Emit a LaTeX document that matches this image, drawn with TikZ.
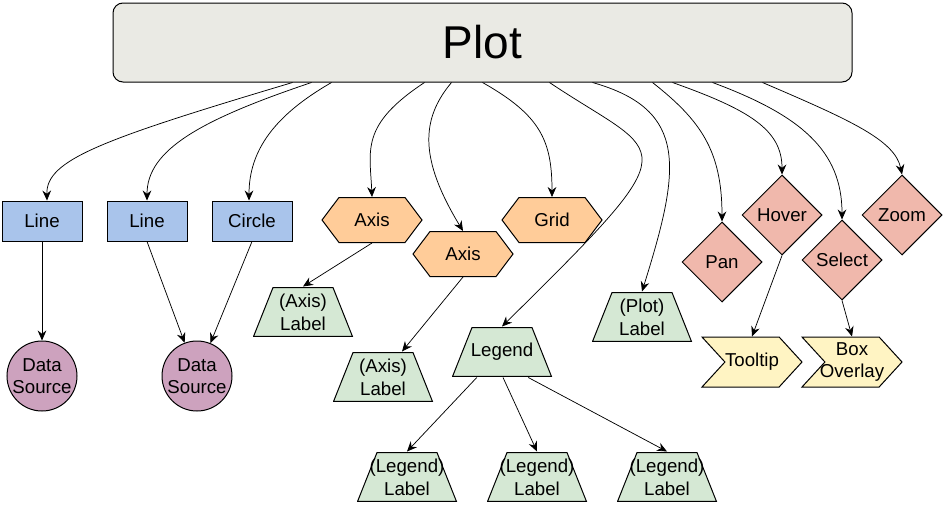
\documentclass[tikz,border=0pt]{standalone}
\usepackage{fontspec}
\setmainfont{Liberation Sans}
\usepackage{tikz}
\usetikzlibrary{
    positioning,
    arrows.meta,
    calc,
    shapes.geometric,
    shapes.symbols
}
\definecolor{plotGray}{RGB}{234, 234, 228}
\definecolor{glyphBlue}{RGB}{169, 196, 235}
\definecolor{sourcePurple}{RGB}{205, 162, 190}
\definecolor{guideOrange}{RGB}{255, 204, 153}
\definecolor{labelGreen}{RGB}{213, 232, 212}
\definecolor{toolPink}{RGB}{240, 184, 172}
\definecolor{extraYellow}{RGB}{255, 244, 195}

% text of no width, so that it does not widen the shape
\newcommand{\zw}[1]{\makebox[0pt]{#1}}

\tikzset{
    base/.style={draw=black, line width=0.75pt, inner sep=0pt, align=center,
        font=\fontsize{14pt}{17pt}\selectfont},
    plotBox/.style={base, rectangle, rounded corners=7.5pt, fill=plotGray,
        minimum width=554.25pt, minimum height=59.25pt,
        font=\fontsize{34.5pt}{40pt}\selectfont},
    glyphBox/.style={base, rectangle, fill=glyphBlue,
        minimum width=60pt, minimum height=30pt},
    sourceDisk/.style={base, circle, fill=sourcePurple, minimum size=52.5pt},
    guideHex/.style={base, signal, signal to=west and east,
        signal pointer angle=106, fill=guideOrange,
        minimum width=75pt, minimum height=33.75pt},
    % trapezium drawn inside a plain box
    labelTrap/.style={base, draw=none, rectangle,
        minimum width=75pt, minimum height=37.5pt,
        path picture={
            \draw[fill=labelGreen, line width=0.75pt]
                ([shift={(0.4pt,0.4pt)}]path picture bounding box.south west)
                -- ([shift={(-0.4pt,0.4pt)}]path picture bounding box.south east)
                -- ([shift={(-15pt,-0.4pt)}]path picture bounding box.north east)
                -- ([shift={(15pt,-0.4pt)}]path picture bounding box.north west)
                -- cycle;
        }},
    toolDiamond/.style={base, diamond, fill=toolPink,
        minimum width=60pt, minimum height=60pt},
    extraChevron/.style={base, signal, signal to=east, signal from=west,
        signal pointer angle=95, fill=extraYellow,
        minimum width=75pt, minimum height=37.5pt},
    link/.style={-{Stealth[length=7.5pt, width=6.5pt, inset=2.5pt]}, line width=0.55pt}
}

\begin{document}
\begin{tikzpicture}[x=0.75pt, y=-0.75pt]
    \useasboundingbox (0,0) rectangle (944,507);

    \node[plotBox] (plot) at (482.5,42.5) {Plot};

    % glyphs and their data sources
    \node[glyphBox] (lineA) at (42,221) {Line};
    \node[glyphBox] (lineB) at (147,221) {Line};
    \node[glyphBox] (circ) at (252,221) {Circle};
    \node[sourceDisk] (srcA) at (42,376) {\zw{Data}\\\zw{Source}};
    \node[sourceDisk] (srcB) at (197,376) {\zw{Data}\\\zw{Source}};

    % guides
    \node[guideHex] (axisA) at (372,220) {Axis};
    \node[guideHex] (axisB) at (463,254) {Axis};
    \node[guideHex] (grid) at (552,220) {Grid};
    \node[labelTrap] (axisLabA) at (303,312) {(Axis)\\Label};
    \node[labelTrap] (axisLabB) at (383,377) {(Axis)\\Label};

    % legend
    \node[labelTrap] (legend) at (502,352) {Legend};
    \node[labelTrap] (legLabA) at (407,477) {(Legend)\\Label};
    \node[labelTrap] (legLabB) at (537,477) {(Legend)\\Label};
    \node[labelTrap] (legLabC) at (667,477) {(Legend)\\Label};
    \node[labelTrap] (plotLab) at (642,317) {(Plot)\\Label};

    % tools
    \node[toolDiamond] (pan) at (722,262) {Pan};
    \node[toolDiamond] (hover) at (782,215) {Hover};
    \node[toolDiamond] (select) at (842,260) {Select};
    \node[toolDiamond] (zoom) at (902,215) {Zoom};
    \node[extraChevron] (tooltip) at (752,362) {\zw{Tooltip}};
    \node[extraChevron] (boxOverlay) at (852,362) {\zw{Box}\\\zw{Overlay}};

    % exits on the bottom of the plot
    \foreach \n/\dx in {lineA/180, lineB/199, circ/219, axisA/312, axisB/339,
        grid/370, legend/437, plotLab/480, pan/540, hover/560, select/600, zoom/650}
        \coordinate (out-\n) at ($(plot.south west)+(\dx,0)$);

    \draw[link] (out-lineA) .. controls (100,140) and (46,160) .. ($(lineA.north)+(5,0)$);
    \draw[link] (out-lineB) .. controls (200,120) and (147,150) .. (lineB.north);
    \draw[link] (out-circ) .. controls (275,115) and (249,150) .. ($(circ.north)+(-3,0)$);
    \draw[link] (out-axisA) .. controls (360,125) and (370,150) .. (axisA.north);
    \draw[link] (out-axisB) .. controls (420,120) and (420,160) .. (axisB.north);
    \draw[link] (out-grid) .. controls (540,115) and (552,140) .. (grid.north);
    \draw[link] (out-legend) .. controls (665,160) and (695,136) .. (legend.north);
    \draw[link] (out-plotLab) .. controls (690,110) and (680,170) .. (plotLab.north);
    \draw[link] (out-pan) .. controls (700,120) and (722,150) .. (pan.north);
    \draw[link] (out-hover) .. controls (750,110) and (782,130) .. (hover.north);
    \draw[link] (out-select) .. controls (800,115) and (842,150) .. (select.north);
    \draw[link] (out-zoom) .. controls (850,120) and (895,140) .. (zoom.north);

    % straight links below
    \draw[link] (lineA.south) -- (srcA.north);
    \draw[link] (lineB.south) -- (srcB);
    \draw[link] (circ.south) -- (srcB);
    \draw[link] (axisA.south) -- (axisLabA.north);
    \draw[link] (axisB.south) -- ($(axisLabB.north)+(19,0)$);
    \draw[link] ($(legend.south west)!0.25!(legend.south east)$) -- (legLabA.north);
    \draw[link] ($(legend.south west)!0.51!(legend.south east)$) -- (legLabB.north);
    \draw[link] ($(legend.south west)!0.76!(legend.south east)$) -- (legLabC.north);
    \draw[link] (hover.south) -- (tooltip.north);
    \draw[link] (select.south) -- (boxOverlay.north);
\end{tikzpicture}
\end{document}
